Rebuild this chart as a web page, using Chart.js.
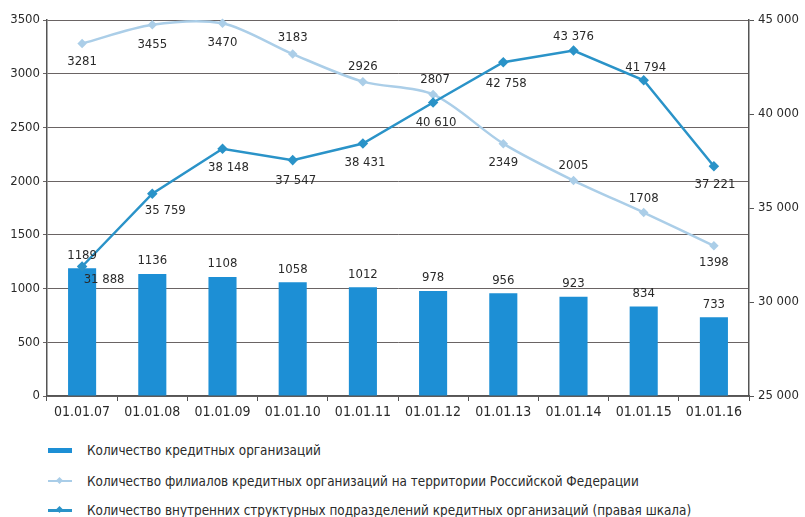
<!DOCTYPE html>
<html>
<head>
<meta charset="utf-8">
<script src="https://cdn.jsdelivr.net/npm/chart.js@4.4.0/dist/chart.umd.min.js"></script>
<style>
    html, body { margin: 0; padding: 0; background: #fff; }
    body { width: 805px; height: 517px; overflow: hidden; font-family: 'Liberation Sans Narrow', 'Arial Narrow', 'DejaVu Sans Condensed', sans-serif; color: #2a2a2a; }
    #wrap { position: relative; width: 805px; height: 430px; }
    #legend { position: relative; height: 87px; }
    .row { position: absolute; left: 48px; height: 20px; display: flex; align-items: center; font-size: 13.4px; white-space: nowrap; }
    .mark { position: relative; width: 24px; height: 20px; margin-right: 15px; }
    .mark .ln { position: absolute; left: 0; right: 0; top: 50%; }
    .mark .dm { position: absolute; left: 9px; top: 7px; width: 5px; height: 5px; transform: rotate(45deg); }
</style>
</head>
<body>
<div id="wrap"><canvas id="chart" width="805" height="430"></canvas></div>
<div id="legend">
    <div class="row" style="top:10px">
        <div class="mark"><div class="ln" style="height:5px;margin-top:-2px;background:#1d8fd5"></div></div>
        <span>Количество кредитных организаций</span>
    </div>
    <div class="row" style="top:41px">
        <div class="mark"><div class="ln" style="height:2px;margin-top:-1px;background:#a9cde8"></div><div class="dm" style="background:#a9cde8"></div></div>
        <span>Количество филиалов кредитных организаций на территории Российской Федерации</span>
    </div>
    <div class="row" style="top:70px">
        <div class="mark"><div class="ln" style="height:3px;margin-top:-1px;background:#2a93c8"></div><div class="dm" style="background:#2a93c8"></div></div>
        <span>Количество внутренних структурных подразделений кредитных организаций (правая шкала)</span>
    </div>
</div>
<script>
// Данные
const dates = ['01.01.07', '01.01.08', '01.01.09', '01.01.10', '01.01.11', '01.01.12', '01.01.13', '01.01.14', '01.01.15', '01.01.16'];
const creditOrgs = [1189, 1136, 1108, 1058, 1012, 978, 956, 923, 834, 733];
const branches = [3281, 3455, 3470, 3183, 2926, 2807, 2349, 2005, 1708, 1398];
const internalUnits = [31888, 35759, 38148, 37547, 38431, 40610, 42758, 43376, 41794, 37221];
const leftTicks = [0, 500, 1000, 1500, 2000, 2500, 3000, 3500];
const rightTicks = [25000, 30000, 35000, 40000, 45000];

// Смещения подписей (dx, dy от точки)
const labelOffsets = [
    creditOrgs.map(() => [0, -13]),
    [[0, 18], [0, 20], [0, 19], [0, -16], [0, -15], [2, -15], [0, 19], [0, -15], [0, -14], [0, 17]],
    [[22, 13], [13, 17], [6, 19], [3, 21], [2, 19], [3, 20], [3, 21], [0, -14], [2, -13], [1, 18]]
];

const fmt = v => String(v).replace(/\B(?=(\d{3})+(?!\d))/g, ' ');
const FONT = "'Liberation Sans Narrow', 'Arial Narrow', 'DejaVu Sans Condensed', sans-serif";
const TEXT = '#2a2a2a';

const valueLabels = {
    id: 'valueLabels',
    afterDatasetsDraw(chart) {
        const ctx = chart.ctx;
        ctx.save();
        ctx.font = '13px ' + FONT;
        ctx.fillStyle = TEXT;
        ctx.textAlign = 'center';
        ctx.textBaseline = 'middle';
        chart.data.datasets.forEach((ds, i) => {
            chart.getDatasetMeta(i).data.forEach((el, j) => {
                const off = labelOffsets[i][j];
                const txt = i === 2 ? fmt(ds.data[j]) : String(ds.data[j]);
                ctx.fillText(txt, el.x + off[0], el.y + off[1]);
            });
        });
        ctx.restore();
    }
};

const ctx = document.getElementById('chart').getContext('2d');
new Chart(ctx, {
    data: {
        labels: dates,
        datasets: [{
            type: 'bar',
            label: 'Количество кредитных организаций',
            data: creditOrgs,
            backgroundColor: '#1d8fd5',
            categoryPercentage: 0.4,
            barPercentage: 1,
            yAxisID: 'y',
            order: 3
        }, {
            type: 'line',
            label: 'Количество филиалов кредитных организаций на территории Российской Федерации',
            data: branches,
            borderColor: '#abcee8',
            backgroundColor: '#abcee8',
            borderWidth: 2.5,
            pointStyle: 'rectRot',
            pointRadius: 3,
            tension: 0.3,
            yAxisID: 'y',
            clip: false,
            order: 2
        }, {
            type: 'line',
            label: 'Количество внутренних структурных подразделений кредитных организаций (правая шкала)',
            data: internalUnits,
            borderColor: '#2a93c8',
            backgroundColor: '#2a93c8',
            borderWidth: 2.5,
            pointStyle: 'rectRot',
            pointRadius: 3.5,
            tension: 0,
            yAxisID: 'y1',
            clip: false,
            order: 1
        }]
    },
    options: {
        responsive: false,
        animation: false,
        layout: { padding: { top: 20, left: 0, right: 0, bottom: 0 } },
        plugins: { legend: { display: false }, tooltip: { enabled: false } },
        scales: {
            x: {
                offset: true,
                grid: { offset: true, drawOnChartArea: false, color: '#555', tickLength: 5 },
                border: { color: '#555', width: 1.5 },
                ticks: { color: TEXT, font: { size: 14, family: FONT }, padding: 3, maxRotation: 0, autoSkip: false },
                afterFit: s => { s.height = 34; }
            },
            y: {
                position: 'left',
                min: 0, max: 3500,
                afterBuildTicks: s => { s.ticks = leftTicks.map(v => ({ value: v })); },
                grid: { color: '#6a6464', lineWidth: 1, tickLength: 4 },
                border: { color: '#555', width: 1.5 },
                ticks: { color: TEXT, font: { size: 13, family: FONT }, padding: 3, callback: v => String(v) },
                afterFit: s => { s.width = 47; }
            },
            y1: {
                position: 'right',
                min: 25000, max: 45000,
                afterBuildTicks: s => { s.ticks = rightTicks.map(v => ({ value: v })); },
                grid: { drawOnChartArea: false, color: '#555', tickLength: 5 },
                border: { color: '#555', width: 1.5 },
                ticks: { color: TEXT, font: { size: 13, family: FONT }, padding: 4, callback: v => fmt(v) },
                afterFit: s => { s.width = 56; }
            }
        }
    },
    plugins: [valueLabels]
});
</script>
</body>
</html>
